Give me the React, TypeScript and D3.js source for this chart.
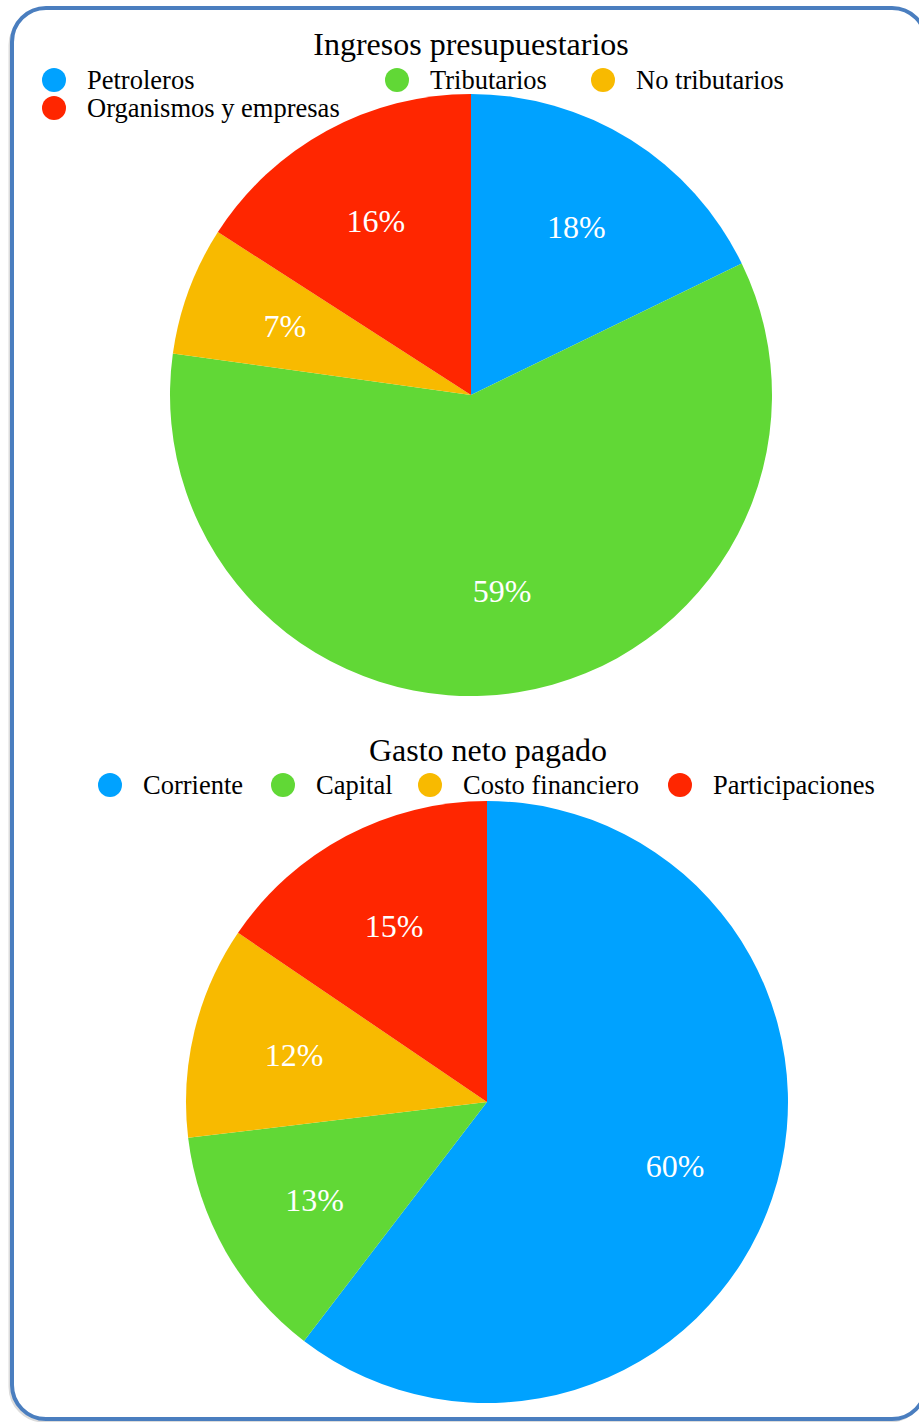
import React from "react";
import * as d3 from "d3";

const ingresosCategories = ["Petroleros", "Tributarios", "No tributarios", "Organismos y empresas"];
const ingresosValues = [17.8, 59.4, 6.9, 15.9];
const ingresosLabels = ["18%", "59%", "7%", "16%"];

const gastoCategories = ["Corriente", "Capital", "Costo financiero", "Participaciones"];
const gastoValues = [60.4, 12.7, 11.4, 15.5];
const gastoLabels = ["60%", "13%", "12%", "15%"];

const colors = ["#00a2ff", "#61d836", "#f8ba00", "#ff2600"];

const FONT = "'Liberation Serif', 'Times New Roman', serif";

type LegendItem = { name: string; cx: number; cy: number };

function Pie({ values, labels, cx, cy, r }: { values: number[]; labels: string[]; cx: number; cy: number; r: number }) {
  const pie = d3.pie<number>().sort(null).value((d) => d);
  const arcs = pie(values);
  const arc = d3.arc<d3.PieArcDatum<number>>().innerRadius(0).outerRadius(r);
  const labelArc = d3.arc<d3.PieArcDatum<number>>().innerRadius(r * 0.66).outerRadius(r * 0.66);
  return (
    <g transform={`translate(${cx},${cy})`}>
      {arcs.map((a, i) => (
        <path key={i} d={arc(a) || ""} fill={colors[i]} />
      ))}
      {arcs.map((a, i) => {
        const [x, y] = labelArc.centroid(a);
        return (
          <text key={"l" + i} x={x} y={y} textAnchor="middle" dominantBaseline="central" fill="#fff" fontSize={32} fontFamily={FONT}>
            {labels[i]}
          </text>
        );
      })}
    </g>
  );
}

function Legend({ items }: { items: LegendItem[] }) {
  return (
    <g>
      {items.map((it, i) => (
        <g key={i}>
          <circle cx={it.cx} cy={it.cy} r={12} fill={colors[i]} />
          <text x={it.cx + 33} y={it.cy} dominantBaseline="central" fontSize={26.5} fontFamily={FONT} fill="#000">
            {it.name}
          </text>
        </g>
      ))}
    </g>
  );
}

export default function App() {
  const W = 919;
  const H = 1422;
  const legend1Pos = [
    [54, 80],
    [397, 80],
    [603, 80],
    [54, 108],
  ];
  const legend2Pos = [
    [110, 785],
    [283, 785],
    [430, 785],
    [680, 785],
  ];
  const legend1 = ingresosCategories.map((name, i) => ({ name, cx: legend1Pos[i][0], cy: legend1Pos[i][1] }));
  const legend2 = gastoCategories.map((name, i) => ({ name, cx: legend2Pos[i][0], cy: legend2Pos[i][1] }));
  return (
    <svg width={W} height={H} style={{ position: "absolute", left: 0, top: 0, background: "#fff" }}>
      <rect x={10} y={11} width={914} height={1410} rx={34} ry={34} fill="none" stroke="#dcdcdc" strokeWidth={3} />
      <rect x={12} y={8} width={914} height={1411} rx={34} ry={34} fill="#fff" stroke="#4a7ebf" strokeWidth={4} />
      <text x={471} y={44} textAnchor="middle" dominantBaseline="central" fontSize={32} fontFamily={FONT} fill="#000">
        Ingresos presupuestarios
      </text>
      <Legend items={legend1} />
      <Pie values={ingresosValues} labels={ingresosLabels} cx={471} cy={395} r={301} />
      <text x={488} y={750} textAnchor="middle" dominantBaseline="central" fontSize={32} fontFamily={FONT} fill="#000">
        Gasto neto pagado
      </text>
      <Legend items={legend2} />
      <Pie values={gastoValues} labels={gastoLabels} cx={487} cy={1102} r={301} />
    </svg>
  );
}
